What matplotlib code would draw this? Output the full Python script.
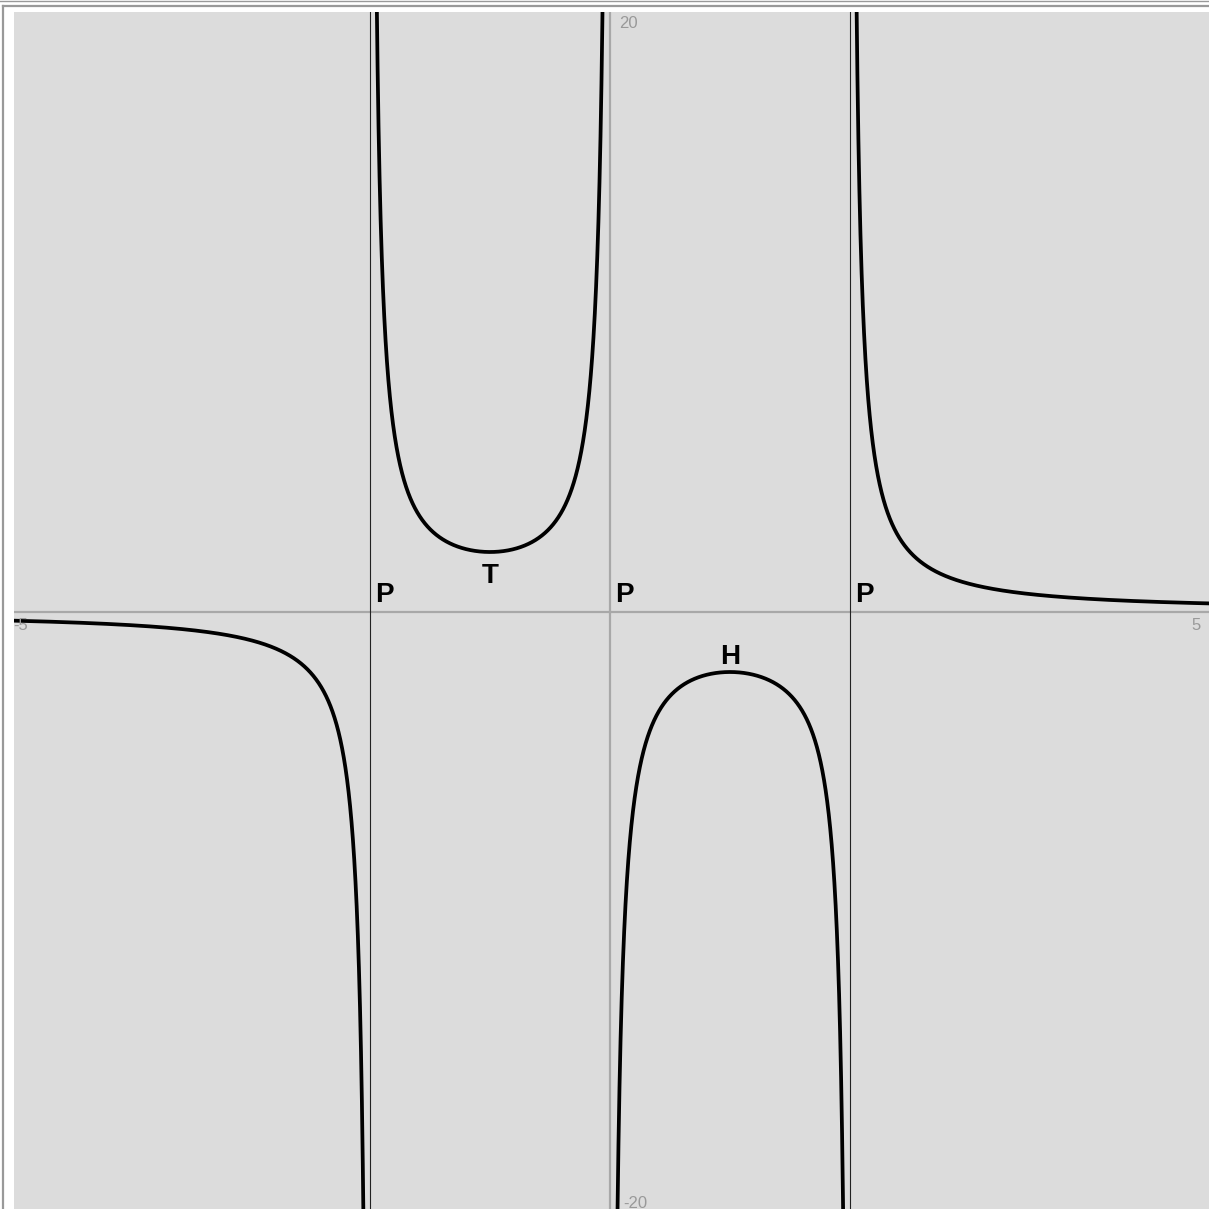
import numpy as np
import matplotlib.pyplot as plt
from matplotlib.lines import Line2D

# f(x) = (x^2 + 5) / (x^3 - 4x)
num_coef = [1, 0, 5]
den_coef = [1, 0, -4, 0]
poles = [-2, 0, 2]
x_range = [-5, 5]
y_range = [-20, 20]

# labels: pole markers and the two turning points
pole_labels = ["P", "P", "P"]
extrema_x = [-1, 1]
extrema_labels = ["T", "H"]

W = 1209
fig = plt.figure(figsize=(W / 100, W / 100), dpi=100)
fig.patch.set_facecolor("white")

# plot area in pixels: left 14, top 12, 120 px per x unit (x=0 at 610), 30 px per y unit
ax = fig.add_axes([14 / W, -3 / W, 1195 / W, 1200 / W])
ax.set_facecolor("#dcdcdc")
ax.set_xlim((14 - 610) / 120, (1209 - 610) / 120)
ax.set_ylim(y_range)
for s in ax.spines.values():
    s.set_visible(False)
ax.set_xticks([])
ax.set_yticks([])

# coordinate axes
ax.axhline(0, color="#a8a8a8", lw=1.6, zorder=1)
ax.axvline(0, color="#a8a8a8", lw=1.6, zorder=1)
# asymptotes
for p in poles:
    if p != 0:
        ax.axvline(p, color="#222222", lw=0.8, zorder=1)

# curve, one piece per interval between poles
edges = [x_range[0]] + poles + [x_range[1]]
for a, b in zip(edges[:-1], edges[1:]):
    lo = a + 1e-4 if a in poles else a
    hi = b - 1e-4 if b in poles else b
    xs = np.linspace(lo, hi, 4000)
    ys = np.polyval(num_coef, xs) / np.polyval(den_coef, xs)
    ys[np.abs(ys) > 60] = np.nan
    ax.plot(xs, ys, color="black", lw=2.7, zorder=3)

lab = dict(fontsize=20, fontweight="bold", family=["Liberation Sans", "DejaVu Sans"], color="black")
for p, t in zip(poles, pole_labels):
    ax.text(p + 0.04, 0.32, t, ha="left", va="baseline", **lab)
for xe, t in zip(extrema_x, extrema_labels):
    ye = np.polyval(num_coef, xe) / np.polyval(den_coef, xe)
    if ye > 0:
        ax.text(xe, ye - 1.03, t, ha="center", va="baseline", **lab)
    else:
        ax.text(xe, ye + 0.27, t, ha="center", va="baseline", **lab)

# axis range labels
tick = dict(fontsize=12, color="#999999", family=["Liberation Sans", "DejaVu Sans"])
ax.text(0.08, y_range[1] - 0.15, str(y_range[1]), ha="left", va="top", **tick)
ax.text(0.11, y_range[0] + 0.55, str(y_range[0]), ha="left", va="top", **tick)
ax.text(x_range[0] + 0.03, -0.2, str(x_range[0]), ha="left", va="top", **tick)
ax.text(x_range[1] - 0.08, -0.2, str(x_range[1]), ha="right", va="top", **tick)

# outer frame lines
fig.add_artist(Line2D([0, 1], [1 - 0.5 / W, 1 - 0.5 / W], color="#999999", lw=1.0))
fig.add_artist(Line2D([2.5 / W, 1], [1 - 5.5 / W, 1 - 5.5 / W], color="#999999", lw=1.6))
fig.add_artist(Line2D([2.5 / W, 2.5 / W], [0, 1 - 5.5 / W], color="#999999", lw=1.6))

fig.savefig("out.png", dpi=100)
